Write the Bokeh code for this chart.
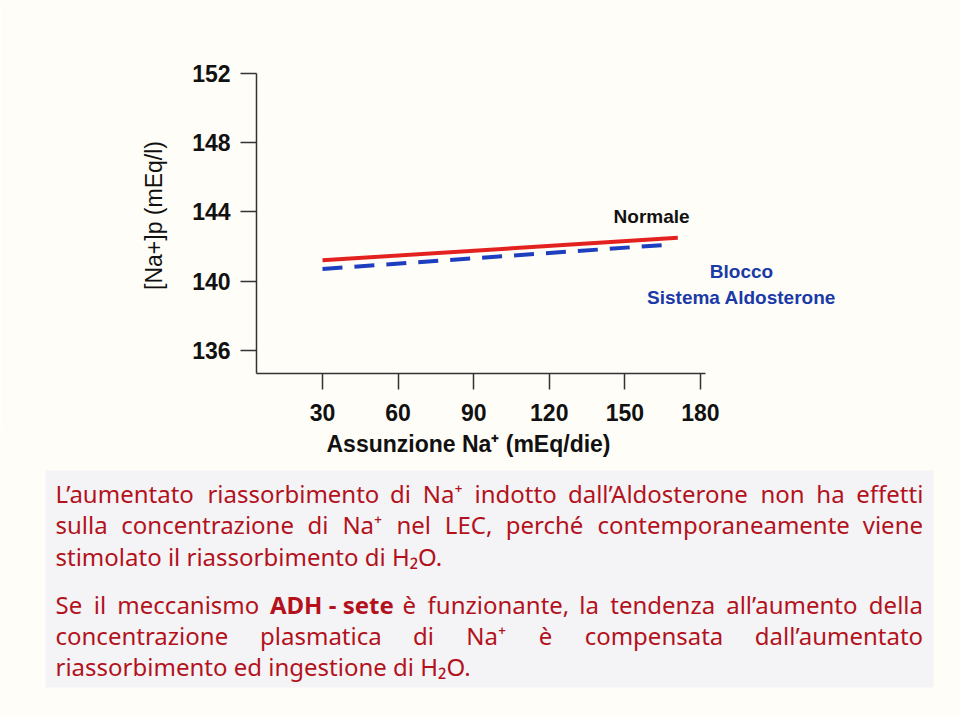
from bokeh.plotting import figure
from bokeh.layouts import column
from bokeh.models import Range1d, ColumnDataSource, FixedTicker
from bokeh.core.properties import value
from bokeh.embed import file_html
from bokeh.resources import INLINE

# ---------------- data ----------------
intake_ticks = [30, 60, 90, 120, 150, 180]
na_ticks = [136, 140, 144, 148, 152]
normale_x = [30, 171]
normale_y = [141.2, 142.5]
blocco_x = [30, 167]
blocco_y = [140.7, 142.1]

BG = "#fffdf7"
RED = "#e3211f"
BLUE = "#1d3fbf"
TXT_RED = "#b3121c"

# ---------------- chart ----------------
p = figure(width=960, height=430, output_backend="svg", toolbar_location=None,
           x_range=Range1d(3.81, 283.2), y_range=Range1d(134.67, 152.9),
           min_border_left=256, min_border_right=0, min_border_top=57,
           min_border_bottom=57)
p.frame_align = False
p.background_fill_color = BG
p.border_fill_color = BG
p.outline_line_color = None
p.grid.visible = False

p.line(normale_x, normale_y, line_color=RED, line_width=4)
p.line(blocco_x, blocco_y, line_color=BLUE, line_width=4, line_dash="20 12")

for ax in (p.xaxis[0], p.yaxis[0]):
    ax.axis_line_color = "#333333"
    ax.axis_line_width = 1.5
    ax.major_tick_line_color = "#333333"
    ax.major_tick_line_width = 1.5
    ax.major_tick_out = 16
    ax.major_tick_in = 0
    ax.minor_tick_line_color = None
    ax.major_label_text_font = "Liberation Sans"
    ax.major_label_text_font_style = "bold"
    ax.major_label_text_color = "#111111"
    ax.axis_label_text_color = "#111111"

p.xaxis.ticker = FixedTicker(ticks=intake_ticks)
p.xaxis.bounds = (3.81, 182)
p.xaxis.major_label_text_font_size = "23px"
p.xaxis.major_label_standoff = 14

p.yaxis.ticker = FixedTicker(ticks=na_ticks)
p.yaxis.bounds = (134.67, 152)
p.yaxis.major_label_text_font_size = "23px"
p.yaxis.major_label_standoff = 10
p.yaxis.axis_label = "[Na+]p (mEq/l)"
p.yaxis.axis_label_text_font = "Liberation Sans"
p.yaxis.axis_label_text_font_style = "normal"
p.yaxis.axis_label_text_font_size = "23px"
p.yaxis.axis_label_standoff = 22

p.text(x=[160.6], y=[143.73], text=["Normale"], text_font=value("Liberation Sans"),
       text_font_style="bold", text_font_size="19px", text_color="#111111",
       text_align="center", text_baseline="middle")
p.text(x=[196.3, 196.3], y=[140.56, 139.06], text=["Blocco", "Sistema Aldosterone"],
       text_font=value("Liberation Sans"), text_font_style="bold",
       text_font_size="19px", text_color="#1a3aa8",
       text_align="center", text_baseline="middle")

# ---------------- x title + text box ----------------
q = figure(width=960, height=287, output_backend="svg", toolbar_location=None,
           x_range=Range1d(0, 960), y_range=Range1d(717, 430),
           min_border=0, min_border_left=0, min_border_right=0,
           min_border_top=0, min_border_bottom=0)
q.frame_align = False
q.background_fill_color = BG
q.border_fill_color = BG
q.outline_line_color = None
q.grid.visible = False
q.axis.visible = False

q.text(x=[468], y=[443], text=["Assunzione Na\u207a (mEq/die)"],
       text_font=value("Liberation Sans"), text_font_style="bold",
       text_font_size="23px", text_color="#111111",
       text_align="center", text_baseline="middle")

q.quad(left=[45], right=[933], top=[470], bottom=[687], fill_color="#f4f4f6",
       line_color=None)

NA = "Na\u207a"
# (y, words, justified)
paragraph_lines = [
    (493, ["L\u2019aumentato", "riassorbimento", "di", NA, "indotto",
           "dall\u2019Aldosterone", "non", "ha", "effetti"], True),
    (524, ["sulla", "concentrazione", "di", NA, "nel", "LEC,", "perché",
           "contemporaneamente", "viene"], True),
    (556, ["stimolato il riassorbimento di H\u2082O."], False),
    (604, ["Se", "il", "meccanismo", "*ADH - sete", "è", "funzionante,", "la",
           "tendenza", "all\u2019aumento", "della"], True),
    (635, ["concentrazione", "plasmatica", "di", NA, "è", "compensata",
           "dall\u2019aumentato"], True),
    (666, ["riassorbimento ed ingestione di H\u2082O."], False),
]

FS = 24
LEFT, RIGHT = 55, 922
# approximate advance widths (em) of Noto Sans, used only to justify lines
W = {' ': .26, 'a': .556, 'b': .613, 'c': .476, 'd': .613, 'e': .561, 'é': .561,
     'è': .561, 'f': .339, 'g': .548, 'h': .614, 'i': .253, 'l': .253, 'm': .930,
     'n': .614, 'o': .604, 'p': .613, 'r': .408, 's': .477, 't': .353, 'u': .614,
     'v': .501, 'z': .477, ',': .243, '.': .266, '-': .322, '\u2019': .17,
     'L': .524, 'A': .633, 'C': .631, 'D': .735, 'E': .549, 'H': .738, 'N': .760,
     'O': .781, 'S': .550, '\u207a': .35, '\u2082': .35}


def width(word, bold):
    w = sum(W.get(ch, .55) for ch in word) * FS
    return w * 1.03 if bold else w


xs, ys, ts, st = [], [], [], []
for y, words, just in paragraph_lines:
    bolds = [w.startswith("*") for w in words]
    clean = [w.lstrip("*") for w in words]
    if just and len(clean) > 1:
        widths = [width(w, b) for w, b in zip(clean, bolds)]
        gap = (RIGHT - LEFT - sum(widths)) / (len(clean) - 1)
        x = LEFT
        for w, b, wd in zip(clean, bolds, widths):
            xs.append(x); ys.append(y); ts.append(w)
            st.append("bold" if b else "normal")
            x += wd + gap
    else:
        xs.append(LEFT); ys.append(y); ts.append(clean[0]); st.append("normal")

src = ColumnDataSource(dict(x=xs, y=ys, text=ts, style=st))
q.text(x="x", y="y", text="text", source=src, text_align="left",
       text_font_style="style", text_font=value("Noto Sans"), text_font_size=f"{FS}px",
       text_color=TXT_RED, text_baseline="middle")

layout = column(p, q, spacing=0)
open("out.html", "w").write(file_html(layout, INLINE))
